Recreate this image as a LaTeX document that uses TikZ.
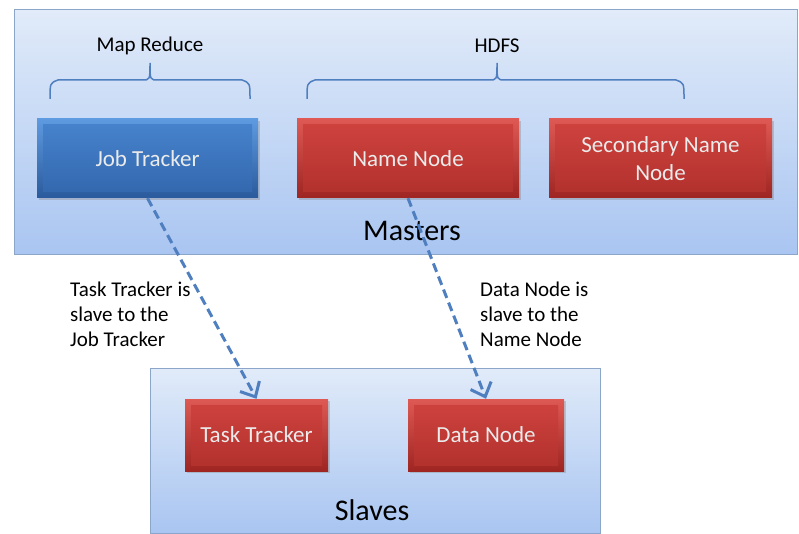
\documentclass[tikz,border=0pt]{standalone}
\usepackage{fontspec}
\setmainfont{Carlito}
\usetikzlibrary{arrows.meta,shadows}
\definecolor{paneltop}{HTML}{E1EBF9}
\definecolor{panelbot}{HTML}{A9C5F1}
\definecolor{panelline}{HTML}{8CA6CA}
\definecolor{bluetop}{HTML}{5E9AE0}
\definecolor{bluebot}{HTML}{2A5A9C}
\definecolor{blueintop}{HTML}{4784CE}
\definecolor{blueinbot}{HTML}{3266AC}
\definecolor{redtop}{HTML}{DE5954}
\definecolor{redbot}{HTML}{9E2522}
\definecolor{redintop}{HTML}{D0433F}
\definecolor{redinbot}{HTML}{B0302C}
\definecolor{linkblue}{HTML}{4F7FBF}
\tikzset{
  panel/.style={draw=panelline, line width=1pt, top color=paneltop, bottom color=panelbot},
  box/.style={rectangle, minimum height=79pt, inner sep=0pt, align=center,
    text=white!92!black, font=\fontsize{23}{28}\selectfont,
    drop shadow={shadow xshift=1.5pt, shadow yshift=-2pt, opacity=0.35}},
  bluebox/.style={box, top color=bluetop, bottom color=bluebot,
    path picture={\shade[top color=blueintop, bottom color=blueinbot]
      ([shift={(6pt,-6pt)}]path picture bounding box.north west) rectangle
      ([shift={(-6pt,6pt)}]path picture bounding box.south east);}},
  redbox/.style={box, top color=redtop, bottom color=redbot,
    path picture={\shade[top color=redintop, bottom color=redinbot]
      ([shift={(6pt,-6pt)}]path picture bounding box.north west) rectangle
      ([shift={(-6pt,6pt)}]path picture bounding box.south east);}},
  brace/.style={draw=linkblue, line width=1.5pt},
  link/.style={draw=linkblue, line width=3pt, dash pattern=on 9pt off 5pt,
    -{Straight Barb[length=12pt,width=22pt,line width=3pt,sep=0pt]}},
  note/.style={anchor=north west, inner sep=0pt, align=left,
    font=\fontsize{21}{25}\selectfont}
}
\begin{document}
\begin{tikzpicture}[x=1pt,y=-1pt]
  \useasboundingbox (0,0) rectangle (799,534);
  % masters
  \draw[panel] (14,10) rectangle (797,255);
  \node (mr) at (150,46) {\fontsize{21}{24}\selectfont Map Reduce};
  \node (hdfs) at (497,46) {\fontsize{21}{24}\selectfont HDFS};
  \draw[brace] (50,99) .. controls (50,83) .. (58,80) -- (142,80)
    .. controls (150,80) .. (150,63) .. controls (150,80) .. (158,80)
    -- (242,80) .. controls (250,83) .. (250,99);
  \draw[brace] (307,99) .. controls (307,83) .. (315,80) -- (489,80)
    .. controls (497,80) .. (497,63) .. controls (497,80) .. (505,80)
    -- (676,80) .. controls (684,83) .. (684,99);
  \node[bluebox, minimum width=221pt] (job) at (147.5,158.5) {Job Tracker};
  \node[redbox, minimum width=222pt] (name) at (408,158.5) {Name Node};
  \node[redbox, minimum width=223pt] (second) at (660.5,158.5) {Secondary Name\\Node};
  \node (masters) at (412,231) {\fontsize{30}{34}\selectfont Masters};
  % slaves
  \draw[panel] (150,368) rectangle (600,533);
  \node[redbox, minimum width=143pt, minimum height=72pt] (task) at (256.5,435) {Task Tracker};
  \node[redbox, minimum width=156pt, minimum height=72pt] (data) at (486,435) {Data Node};
  \node (slaves) at (372,510) {\fontsize{30}{34}\selectfont Slaves};
  % links
  \draw[link] (job.south) -- (task.north);
  \draw[link] (name.south) -- (data.north);
  \node[note] (tasknote) at (70,282) {Task Tracker is\\slave to the\\Job Tracker};
  \node[note] (datanote) at (480,282) {Data Node is\\slave to the\\Name Node};
\end{tikzpicture}
\end{document}
